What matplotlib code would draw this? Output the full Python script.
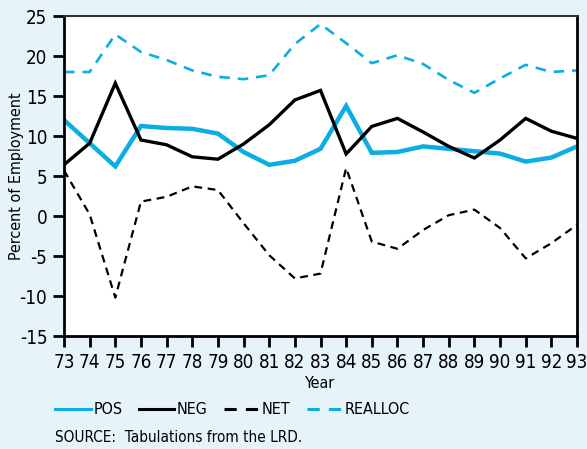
# Job flows chart: POS / NEG / NET / REALLOC as percent of employment, 1973-93
import matplotlib
matplotlib.use("Agg")
import matplotlib.pyplot as plt
from matplotlib.lines import Line2D

years = ["73", "74", "75", "76", "77", "78", "79", "80", "81", "82", "83",
         "84", "85", "86", "87", "88", "89", "90", "91", "92", "93"]
pos = [12.0, 9.1, 6.2, 11.25, 11.0, 10.9, 10.3, 8.0, 6.4, 6.9, 8.4,
       13.75, 7.9, 8.0, 8.7, 8.4, 8.1, 7.8, 6.8, 7.3, 8.7]
neg = [6.4, 9.1, 16.6, 9.5, 8.9, 7.4, 7.1, 9.0, 11.4, 14.5, 15.7,
       7.75, 11.2, 12.2, 10.5, 8.7, 7.25, 9.5, 12.2, 10.6, 9.7]
net = [5.7, 0.2, -10.2, 1.8, 2.4, 3.7, 3.25, -0.9, -4.9, -7.8, -7.2,
       6.0, -3.2, -4.1, -1.75, 0.1, 0.8, -1.5, -5.3, -3.4, -1.1]
realloc = [18.0, 18.0, 22.7, 20.5, 19.5, 18.2, 17.4, 17.1, 17.6, 21.5, 24.0,
           21.6, 19.1, 20.1, 19.0, 17.0, 15.4, 17.2, 18.9, 18.0, 18.2]
y_ticks = [-15, -10, -5, 0, 5, 10, 15, 20, 25]
series_names = ["POS", "NEG", "NET", "REALLOC"]

CYAN = "#0BADE3"
BG = "#E7F3FB"

plt.rcParams["font.family"] = ["Liberation Sans Narrow", "DejaVu Sans"]
plt.rcParams["font.stretch"] = "condensed"
plt.rcParams["axes.unicode_minus"] = False

fig = plt.figure(figsize=(5.87, 4.49), dpi=100, facecolor=BG)
ax = fig.add_axes([64 / 587, 1 - 336 / 449, 513 / 587, 320 / 449])
ax.set_facecolor("white")

x = list(range(len(years)))
ax.plot(x, pos, color=CYAN, lw=3.2, solid_joinstyle="miter")
ax.plot(x, neg, color="black", lw=2.4, solid_joinstyle="miter")
ax.plot(x, net, color="black", lw=1.6, ls=(0, (3.5, 2.5)))
ax.plot(x, realloc, color=CYAN, lw=1.9, ls=(0, (4, 3)))

ax.set_xlim(0, len(years) - 1)
ax.set_ylim(-15, 25)
ax.set_xticks(x)
ax.set_xticklabels(years)
ax.set_yticks(y_ticks)
ax.tick_params(axis="both", direction="out", length=8, width=2,
               labelsize=13.5, pad=4)

for side in ["left", "bottom", "right"]:
    ax.spines[side].set_linewidth(2)
    ax.spines[side].set_color("black")
ax.spines["top"].set_linewidth(1.5)
ax.spines["top"].set_color("#333333")

ax.set_xlabel("Year", fontsize=11.5, labelpad=3)
ax.set_ylabel("Percent of Employment", fontsize=11.5)
ax.yaxis.set_label_coords(-0.077, 0.5)

# legend handles: longer dashes than in the plot, like the reference key
handles = [
    Line2D([], [], color=CYAN, lw=2.2),
    Line2D([], [], color="black", lw=2.2),
    Line2D([], [], color="black", lw=2.2, ls=(0, (4, 3))),
    Line2D([], [], color=CYAN, lw=2.2, ls=(0, (4, 3))),
]
fig.legend(handles, series_names, loc="center left",
           bbox_to_anchor=(41 / 587, 1 - 410 / 449),
           ncol=4, frameon=False, fontsize=11.5, handlelength=2.2,
           handletextpad=0.2, columnspacing=1.0)

fig.text(55 / 587, 1 - 437 / 449, "SOURCE:  Tabulations from the LRD.",
         fontsize=11, va="center", ha="left")

fig.savefig("out.png", dpi=100, facecolor=BG)
